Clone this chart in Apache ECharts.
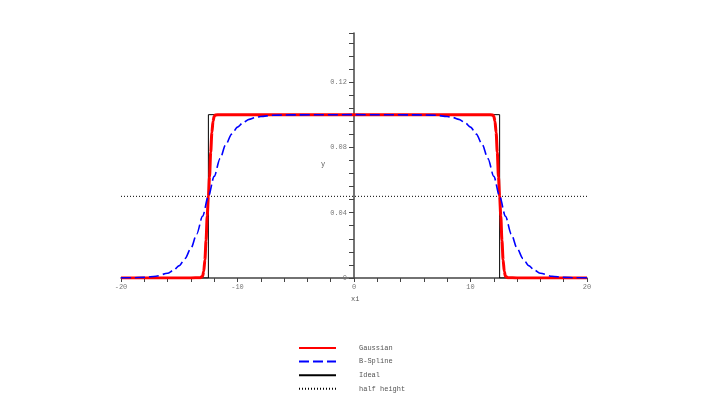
<!DOCTYPE html>
<html>
<head>
<meta charset="utf-8">
<script src="https://cdn.jsdelivr.net/npm/echarts@6/dist/echarts.min.js"></script>
<style>
  html, body { margin: 0; padding: 0; background: #fff; }
  #chart { width: 708px; height: 398px; }
</style>
</head>
<body>
<div id="chart"></div>
<script>
// B-Spline curve (blue, dashed)
const splineX = [-20, -19, -18, -17, -16, -15.5, -15, -14.5, -14, -13.5, -13, -12.5, -12, -11.5, -11, -10.5, -10, -9.5, -9, -8.5, -8, -7, -6, -5, 0,
  5, 6, 7, 8, 8.5, 9, 9.5, 10, 10.5, 11, 11.5, 12, 12.5, 13, 13.5, 14, 14.5, 15, 15.5, 16, 17, 18, 19, 20]
const splineY = [0.00006, 0.00015, 0.0004, 0.0011, 0.0029, 0.0047, 0.0076, 0.0119, 0.0182, 0.0269, 0.0378, 0.05, 0.0622, 0.0731, 0.0818, 0.0881, 0.0924, 0.0953, 0.0971, 0.0982, 0.0989, 0.0996, 0.0998, 0.0999, 0.1,
  0.0999, 0.0998, 0.0996, 0.0989, 0.0982, 0.0971, 0.0953, 0.0924, 0.0881, 0.0818, 0.0731, 0.0622, 0.05, 0.0378, 0.0269, 0.0182, 0.0119, 0.0076, 0.0047, 0.0029, 0.0011, 0.0004, 0.00015, 0.00006]

// Gaussian curve (red)
const gaussX = [-20, -14, -13.2, -13, -12.9, -12.8, -12.7, -12.6, -12.5, -12.4, -12.3, -12.2, -12.1, -12, -11.9, -11.5, 0,
  11.5, 11.9, 12, 12.1, 12.2, 12.3, 12.4, 12.5, 12.6, 12.7, 12.8, 12.9, 13, 13.2, 14, 20]
const gaussY = [0, 0, 0.0002, 0.001, 0.004, 0.011, 0.023, 0.038, 0.05, 0.062, 0.077, 0.089, 0.096, 0.099, 0.0998, 0.1, 0.1,
  0.1, 0.0998, 0.099, 0.096, 0.089, 0.077, 0.062, 0.05, 0.038, 0.023, 0.011, 0.004, 0.001, 0.0002, 0, 0]

// Ideal box
const idealX = [-20, -12.5, -12.5, 12.5, 12.5, 20]
const idealY = [0, 0, 0.1, 0.1, 0, 0]

// half height
const halfX = [-20, 20]
const halfY = [0.05, 0.05]

const legendNames = ['Gaussian', 'B-Spline', 'Ideal', 'half height']

const pairs = (xs, ys) => xs.map((x, i) => [x, ys[i]])
const mono = 'Liberation Mono'
const axisColor = '#444'

const chart = echarts.init(document.getElementById('chart'))
chart.setOption({
  backgroundColor: '#fff',
  animation: false,
  textStyle: { fontFamily: mono },
  grid: { left: 121, right: 121, top: 33, bottom: 120 },
  legend: {
    data: legendNames,
    orient: 'vertical',
    left: 293,
    top: 339,
    height: 100,
    itemWidth: 37,
    itemHeight: 8,
    itemGap: 5.6,
    itemStyle: { opacity: 0 },
    textStyle: { fontFamily: mono, fontSize: 7, color: '#555', lineHeight: 8, padding: [0, 0, 0, 18] }
  },
  xAxis: {
    type: 'value',
    min: -20,
    max: 20,
    interval: 2,
    axisLine: { onZero: true, lineStyle: { color: axisColor, width: 1.5 } },
    axisTick: { length: 4, lineStyle: { color: axisColor } },
    axisLabel: {
      margin: 6,
      fontSize: 7,
      fontFamily: mono,
      color: '#777',
      formatter: v => (Math.abs(v % 10) < 1e-9 ? String(v) : '')
    },
    splitLine: { show: false }
  },
  yAxis: {
    type: 'value',
    position: 'left',
    offset: -233,
    min: 0,
    max: 0.15,
    interval: 0.008,
    axisLine: { show: true, onZero: false, lineStyle: { color: axisColor, width: 1.5 } },
    axisTick: { show: true, length: 5, lineStyle: { color: axisColor } },
    axisLabel: {
      margin: 7,
      fontSize: 7,
      fontFamily: mono,
      color: '#777',
      formatter: v => {
        const k = v / 0.04
        return Math.abs(k - Math.round(k)) < 1e-6 ? String(Number(v.toFixed(2))) : ''
      }
    },
    splitLine: { show: false }
  },
  graphic: [
    { type: 'text', left: 321, top: 161, style: { text: 'y', fontFamily: mono, fontSize: 7, fill: '#555' } },
    { type: 'text', left: 351, top: 296, style: { text: 'xi', fontFamily: mono, fontSize: 7, fill: '#555' } }
  ],
  series: [
    {
      name: 'Gaussian',
      type: 'line',
      z: 3,
      symbol: 'none',
      smooth: 0.3,
      smoothMonotone: 'x',
      data: pairs(gaussX, gaussY),
      lineStyle: { color: '#ff0000', width: 3 },
      itemStyle: { color: '#ff0000' }
    },
    {
      name: 'B-Spline',
      type: 'line',
      z: 4,
      symbol: 'none',
      smooth: 0.3,
      smoothMonotone: 'x',
      data: pairs(splineX, splineY),
      lineStyle: { color: '#0000ff', width: 1.6, type: [10, 4] },
      itemStyle: { color: '#0000ff' }
    },
    {
      name: 'Ideal',
      type: 'line',
      z: 2,
      symbol: 'none',
      data: pairs(idealX, idealY),
      lineStyle: { color: '#000', width: 1 },
      itemStyle: { color: '#000' }
    },
    {
      name: 'half height',
      type: 'line',
      z: 2,
      symbol: 'none',
      data: pairs(halfX, halfY),
      lineStyle: { color: '#000', width: 1, type: [1, 2] },
      itemStyle: { color: '#000' }
    }
  ]
})
</script>
</body>
</html>
